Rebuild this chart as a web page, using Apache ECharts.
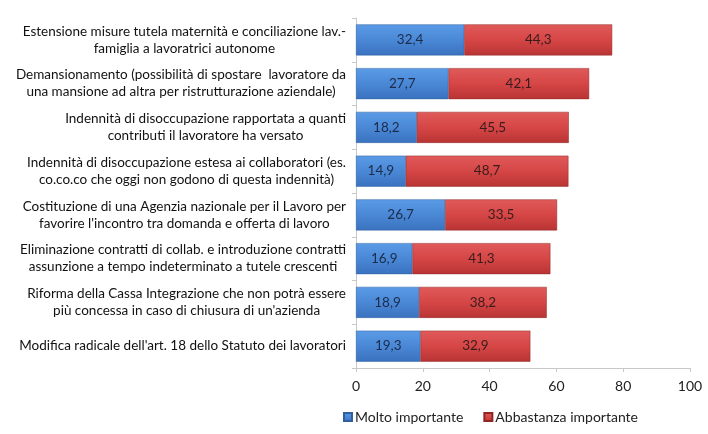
<!DOCTYPE html>
<html>
<head>
<meta charset="utf-8">
<script src="https://cdn.jsdelivr.net/npm/echarts@6/dist/echarts.min.js"></script>
<style>
  html, body { margin: 0; padding: 0; background: #fff; }
  #chart { width: 708px; height: 434px; }
</style>
</head>
<body>
<div id="chart"></div>
<script>
// categories, top to bottom as in the picture
const categories = [
  "Estensione misure tutela maternità e conciliazione lav.-\nfamiglia a lavoratrici autonome",
  "Demansionamento (possibilità di spostare  lavoratore da\nuna mansione ad altra per ristrutturazione aziendale)",
  "Indennità di disoccupazione rapportata a quanti\ncontributi il lavoratore ha versato",
  "Indennità di disoccupazione estesa ai collaboratori (es.\nco.co.co che oggi non godono di questa indennità)",
  "Costituzione di una Agenzia nazionale per il Lavoro per\nfavorire l'incontro tra domanda e offerta di lavoro",
  "Eliminazione contratti di collab. e introduzione contratti\nassunzione a tempo indeterminato a tutele crescenti",
  "Riforma della Cassa Integrazione che non potrà essere\npiù concessa in caso di chiusura di un'azienda",
  "Modifica radicale dell'art. 18 dello Statuto dei lavoratori"
];
const molto = [32.4, 27.7, 18.2, 14.9, 26.7, 16.9, 18.9, 19.3];
const abbastanza = [44.3, 42.1, 45.5, 48.7, 33.5, 41.3, 38.2, 32.9];
const seriesNames = ["Molto importante", "Abbastanza importante"];

const chart = echarts.init(document.getElementById('chart'));

const font = 'Lato, "Open Sans", sans-serif';
const fmt = v => v.toFixed(1).replace('.', ',');

const blue = new echarts.graphic.LinearGradient(0, 0, 0, 1, [
  { offset: 0, color: '#5a9be6' },
  { offset: 0.5, color: '#4a88d6' },
  { offset: 1, color: '#3a72bf' }
]);
const red = new echarts.graphic.LinearGradient(0, 0, 0, 1, [
  { offset: 0, color: '#e05a5a' },
  { offset: 0.5, color: '#d64646' },
  { offset: 1, color: '#b93434' }
]);

const option = {
  animation: false,
  color: ['#4a88d6', '#d64646'],
  grid: { left: 356, right: 18, top: 18, bottom: 66 },
  legend: {
    left: 338,
    top: 405,
    itemWidth: 8,
    itemHeight: 8,
    itemGap: 20,
    icon: 'rect',
    textStyle: { fontFamily: font, fontSize: 14, color: '#222', padding: [0, 0, 0, -2] },
    data: seriesNames
  },
  xAxis: {
    type: 'value',
    min: 0,
    max: 100,
    interval: 20,
    axisLine: { show: true, lineStyle: { color: '#c8c8c8' } },
    axisTick: { show: true, length: 4, lineStyle: { color: '#c8c8c8' } },
    splitLine: { show: false },
    axisLabel: { fontFamily: font, fontSize: 14, color: '#222', margin: 11 }
  },
  yAxis: {
    type: 'category',
    inverse: true,
    data: categories,
    axisLine: { show: true, lineStyle: { color: '#c8c8c8' } },
    axisTick: { show: true, length: 4, lineStyle: { color: '#c8c8c8' } },
    axisLabel: {
      margin: 10,
      align: 'right',
      formatter: v => v.split('\n').map(l => '{c|' + l + '}').join('\n'),
      rich: {
        c: { align: 'center', fontFamily: font, fontSize: 13.5, color: '#111', lineHeight: 17 }
      }
    }
  },
  series: [
    {
      name: seriesNames[0],
      type: 'bar',
      stack: 'tot',
      data: molto,
      barWidth: 31,
      itemStyle: { color: blue, borderColor: '#2f5f9e', borderWidth: 0.5 },
      label: {
        show: true, position: 'inside', formatter: p => fmt(p.value),
        fontFamily: font, fontSize: 13.5, color: '#1c2b4a'
      }
    },
    {
      name: seriesNames[1],
      type: 'bar',
      stack: 'tot',
      data: abbastanza,
      barWidth: 31,
      itemStyle: { color: red, borderColor: '#8e2626', borderWidth: 0.5 },
      label: {
        show: true, position: 'inside', formatter: p => fmt(p.value),
        fontFamily: font, fontSize: 13.5, color: '#3a1c1c'
      }
    }
  ]
};
chart.setOption(option);
</script>
</body>
</html>
